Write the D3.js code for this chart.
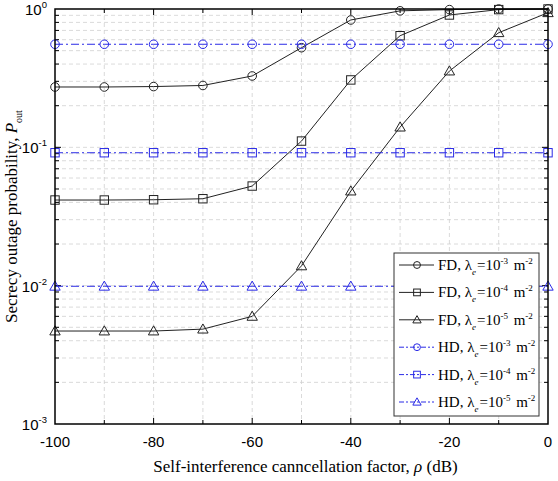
<!DOCTYPE html>
<html>
<head>
<meta charset="utf-8">
<script src="https://cdn.jsdelivr.net/npm/d3@7"></script>
<style>
  body { margin: 0; background: #fff; }
  svg { display: block; }
</style>
</head>
<body>
<div id="chart"></div>
<script>
// data
const rhoDb = [-100, -90, -80, -70, -60, -50, -40, -30, -20, -10, 0];
const fd3 = [0.273, 0.273, 0.275, 0.28, 0.328, 0.525, 0.833, 0.97, 0.99, 1.0, 1.0];
const fd4 = [0.0416, 0.0416, 0.0418, 0.0425, 0.0525, 0.111, 0.307, 0.641, 0.905, 0.99, 1.0];
const fd5 = [0.0047, 0.0047, 0.0047, 0.00485, 0.006, 0.0139, 0.0483, 0.14, 0.356, 0.674, 0.94];
const hd3 = [0.556, 0.556, 0.556, 0.556, 0.556, 0.556, 0.556, 0.556, 0.556, 0.556, 0.556];
const hd4 = [0.0914, 0.0914, 0.0914, 0.0914, 0.0914, 0.0914, 0.0914, 0.0914, 0.0914, 0.0914, 0.0914];
const hd5 = [0.0099, 0.0099, 0.0099, 0.0099, 0.0099, 0.0099, 0.0099, 0.0099, 0.0099, 0.0099, 0.0099];
const xTicks = [-100, -80, -60, -40, -20, 0];
const yExps = [0, -1, -2, -3];

const series = [
  {mode: 'FD', exp: '-3', marker: 'circle', vals: fd3},
  {mode: 'FD', exp: '-4', marker: 'square', vals: fd4},
  {mode: 'FD', exp: '-5', marker: 'triangle', vals: fd5},
  {mode: 'HD', exp: '-3', marker: 'circle', vals: hd3},
  {mode: 'HD', exp: '-4', marker: 'square', vals: hd4},
  {mode: 'HD', exp: '-5', marker: 'triangle', vals: hd5}
];

const width = 558;
const height = 481;
const plotL = 55, plotR = 548, plotT = 9, plotB = 424;
const blue = '#2a2ae6';

const svg = d3.select('#chart')
    .append('svg')
    .attr('width', width)
    .attr('height', height);

const x = d3.scaleLinear().domain([-100, 0]).range([plotL, plotR]);
const y = d3.scaleLog().domain([1e-3, 1]).range([plotB, plotT]);

// grid
const grid = svg.append('g')
    .attr('stroke', '#d0d0d0')
    .attr('stroke-width', 0.8)
    .attr('stroke-dasharray', '4,3');

d3.range(-90, 0, 10).forEach(v => {
  grid.append('line')
      .attr('x1', x(v)).attr('x2', x(v))
      .attr('y1', plotT).attr('y2', plotB);
});

const minorVals = [];
[-3, -2, -1].forEach(e => {
  for (let m = 1; m < 10; m++) minorVals.push(m * Math.pow(10, e));
});
minorVals.filter(v => v > 1e-3).forEach(v => {
  grid.append('line')
      .attr('x1', plotL).attr('x2', plotR)
      .attr('y1', y(v)).attr('y2', y(v));
});

// ticks (inward)
const ticks = svg.append('g').attr('stroke', '#000').attr('stroke-width', 1);
d3.range(-90, 0, 10).forEach(v => {
  const len = v % 20 === 0 ? 6 : 4;
  ticks.append('line').attr('x1', x(v)).attr('x2', x(v))
      .attr('y1', plotB).attr('y2', plotB - len);
  ticks.append('line').attr('x1', x(v)).attr('x2', x(v))
      .attr('y1', plotT).attr('y2', plotT + len);
});
minorVals.filter(v => v > 1e-3).forEach(v => {
  const major = Math.abs(Math.log10(v) - Math.round(Math.log10(v))) < 1e-9;
  const len = major ? 6 : 4;
  ticks.append('line').attr('x1', plotL).attr('x2', plotL + len)
      .attr('y1', y(v)).attr('y2', y(v));
  ticks.append('line').attr('x1', plotR).attr('x2', plotR - len)
      .attr('y1', y(v)).attr('y2', y(v));
});

// tick labels
const tickFont = 'Liberation Sans, Arial, sans-serif';
xTicks.forEach(v => {
  svg.append('text')
      .attr('x', x(v))
      .attr('y', plotB + 23)
      .attr('text-anchor', 'middle')
      .attr('font-family', tickFont)
      .attr('font-size', 15)
      .text(v);
});

yExps.forEach(e => {
  const t = svg.append('text')
      .attr('x', plotL - 8)
      .attr('y', y(Math.pow(10, e)) + 6)
      .attr('text-anchor', 'end')
      .attr('font-family', tickFont)
      .attr('font-size', 15);
  t.append('tspan').text('10');
  t.append('tspan').attr('dy', -7).attr('font-size', 9.5).text(e);
});

// lines and markers
function drawMarker(g, type, cx, cy, color, sz) {
  if (type === 'circle') {
    g.append('circle').attr('cx', cx).attr('cy', cy).attr('r', 4.3 * sz)
        .attr('fill', 'none').attr('stroke', color).attr('stroke-width', 1);
  } else if (type === 'square') {
    const h = 4.2 * sz;
    g.append('rect').attr('x', cx - h).attr('y', cy - h)
        .attr('width', 2 * h).attr('height', 2 * h)
        .attr('fill', 'none').attr('stroke', color).attr('stroke-width', 1);
  } else {
    const s = 5.2 * sz;
    g.append('path')
        .attr('d', 'M' + cx + ',' + (cy - s) + 'L' + (cx + s) + ',' + (cy + s * 0.75) +
            'L' + (cx - s) + ',' + (cy + s * 0.75) + 'Z')
        .attr('fill', 'none').attr('stroke', color).attr('stroke-width', 1);
  }
}

const line = d3.line()
    .x((d, i) => x(rhoDb[i]))
    .y(d => y(d));

const plot = svg.append('g');
series.forEach(s => {
  const color = s.mode === 'FD' ? '#222' : blue;
  plot.append('path')
      .datum(s.vals)
      .attr('d', line)
      .attr('fill', 'none')
      .attr('stroke', color)
      .attr('stroke-width', 1)
      .attr('stroke-dasharray', s.mode === 'HD' ? '8,3,2,3' : null);
  s.vals.forEach((v, i) => {
    drawMarker(plot, s.marker, x(rhoDb[i]), y(v), color, 1);
  });
});

// frame
svg.append('rect')
    .attr('x', plotL).attr('y', plotT)
    .attr('width', plotR - plotL).attr('height', plotB - plotT)
    .attr('fill', 'none')
    .attr('stroke', '#000')
    .attr('stroke-width', 1.5);

// legend
const serif = 'Liberation Serif, Times New Roman, serif';
const legend = svg.append('g');
legend.append('rect')
    .attr('x', 394).attr('y', 253)
    .attr('width', 145).attr('height', 163)
    .attr('fill', '#fff')
    .attr('stroke', '#333')
    .attr('stroke-width', 1);

series.forEach((s, i) => {
  const ly = 265 + i * 27.4;
  const color = s.mode === 'FD' ? '#222' : blue;
  legend.append('line')
      .attr('x1', 399).attr('x2', 434)
      .attr('y1', ly).attr('y2', ly)
      .attr('stroke', color)
      .attr('stroke-width', 1)
      .attr('stroke-dasharray', s.mode === 'HD' ? '5,2,2,2' : null);
  drawMarker(legend, s.marker, 417, ly, color, 0.8);
  const t = legend.append('text')
      .attr('x', 438)
      .attr('y', ly + 5)
      .attr('font-family', serif)
      .attr('font-size', 15);
  t.append('tspan').text(s.mode + ', \u03bb');
  t.append('tspan').attr('dy', 5).attr('font-size', 9).attr('font-style', 'italic').text('e');
  t.append('tspan').attr('dy', -5).attr('dx', 1).text('=10');
  t.append('tspan').attr('dy', -6).attr('font-size', 9).text(s.exp);
  t.append('tspan').attr('dy', 6).attr('dx', 2).text(' m');
  t.append('tspan').attr('dy', -6).attr('font-size', 9).text('-2');
});

// axis titles
const xl = svg.append('text')
    .attr('x', (plotL + plotR) / 2 + 4)
    .attr('y', 472)
    .attr('text-anchor', 'middle')
    .attr('font-family', serif)
    .attr('font-size', 17);
xl.append('tspan').text('Self-interference canncellation factor, ');
xl.append('tspan').attr('font-style', 'italic').text('\u03c1');
xl.append('tspan').text(' (dB)');

const yl = svg.append('text')
    .attr('transform', 'translate(17,' + ((plotT + plotB) / 2) + ') rotate(-90)')
    .attr('text-anchor', 'middle')
    .attr('font-family', serif)
    .attr('font-size', 17);
yl.append('tspan').text('Secrecy outage probability, ');
yl.append('tspan').attr('font-style', 'italic').text('P');
yl.append('tspan').attr('dy', 5).attr('font-size', 10).text('out');
</script>
</body>
</html>
